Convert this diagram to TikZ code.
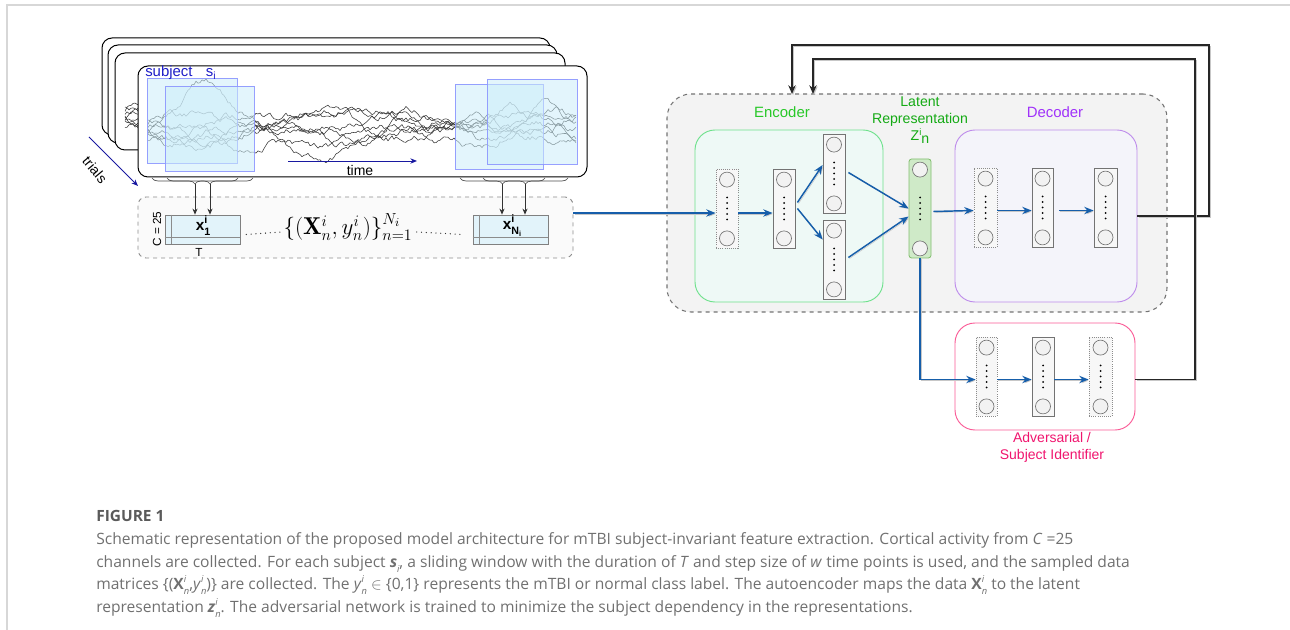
\documentclass[tikz,border=0pt]{standalone}
\usepackage{fontspec}
\usepackage{amsmath}
\usetikzlibrary{arrows.meta,calc,fit,decorations.pathreplacing}
\newfontfamily\dfont{Liberation Sans}
\newfontfamily\capfont{Open Sans}

\definecolor{arrblue}{RGB}{22,94,170}
\definecolor{sigblue}{RGB}{30,30,200}
\definecolor{winfill}{RGB}{205,238,250}
\definecolor{winedge}{RGB}{140,150,255}
\definecolor{matfill}{RGB}{226,243,250}
\definecolor{encedge}{RGB}{110,225,140}
\definecolor{encfill}{RGB}{238,249,246}
\definecolor{enctext}{RGB}{40,200,40}
\definecolor{lattext}{RGB}{20,170,20}
\definecolor{latfill}{RGB}{207,234,200}
\definecolor{latedge}{RGB}{130,190,110}
\definecolor{decedge}{RGB}{190,140,235}
\definecolor{decfill}{RGB}{244,244,250}
\definecolor{dectext}{RGB}{160,50,250}
\definecolor{advedge}{RGB}{250,90,150}
\definecolor{advtext}{RGB}{240,20,110}
\definecolor{autofill}{RGB}{243,243,243}
\definecolor{capgray}{RGB}{112,112,112}
\definecolor{figgray}{RGB}{90,90,90}
\definecolor{pagerule}{RGB}{215,215,215}

% small stacked super/subscripts for text mode
\newcommand{\stk}[2]{\makebox[0pt][l]{\raisebox{0.9ex}{\fontsize{7}{8}\selectfont\itshape #1}}\raisebox{-0.55ex}{\fontsize{7}{8}\selectfont\itshape #2}}
\newcommand{\mlab}[1]{{\bfseries x}\makebox[0pt][l]{\raisebox{0.85ex}{\fontsize{8}{9}\selectfont\bfseries i}}\raisebox{-0.6ex}{\fontsize{8}{9}\selectfont\bfseries #1}}

% a layer of neurons: name, extra style, left, top, right, bottom (pixel units)
\newcommand{\nnlayer}[6]{%
  \node[layerbox,#2,fit={(#3,#4) (#5,#6)}] (#1) {};
  \node[neuron] (#1-top) at ($(#1.north)+(0,11)$) {};
  \node[neuron] (#1-bot) at ($(#1.south)+(0,-10)$) {};
  \foreach \dd in {-2,...,2}{\fill ($(#1.center)+(0,\dd*5.5)$) circle[radius=0.75pt];}
}

% EEG-like traces: mean-reverting random walks around a smooth course,
% computed once and stored as \trace1 ... \trace8
\newcommand{\buildtraces}{%
  \pgfmathsetseed{4711}%
  \foreach \vc/\va/\vf/\vp/\vb/\vg/\vq/\vk/\vm/\vw [count=\n] in {
    124/8/1.7/30/5/4.3/100/46/196/24,
    130/12/1.9/120/4/5.1/20/34/398/14,
    127/11/1.5/250/5/3.7/200/27/330/16,
    133/7/2.2/60/6/4.8/300/40/540/14,
    122/13/1.3/180/4/6.0/90/0/300/10,
    138/9/2.5/10/5/3.2/150/-20/285/18,
    125/10/1.8/300/4/5.5/45/34/505/16,
    135/12/1.1/90/4/4.0/270/-18/222/22}{
    \xdef\yy{\vc}\gdef\pts{}%
    \foreach \x in {148,150,...,576}{%
      \pgfmathparse{\yy+0.12*((\vc+\va*sin(\vf*\x+\vp)+\vb*sin(\vg*\x+\vq)-\vk/(1+((\x-\vm)/\vw)^2))-\yy)+2.8*rand}%
      \xdef\yy{\pgfmathresult}%
      \xdef\pts{\pts(\x,\yy)}%
    }%
    \global\expandafter\let\csname trace\n\endcsname\pts
  }%
}
\newcommand{\sigtraces}{%
  \foreach \n in {1,...,8}{%
    \edef\tmpdraw{\noexpand\draw[trace] plot coordinates {\csname trace\n\endcsname};}\tmpdraw
  }%
}

\begin{document}
\begin{tikzpicture}[x=0.75pt,y=-0.75pt,
  trace/.style={black!80,line width=0.4pt,line join=round},
  trialframe/.style={draw=black,fill=white,rounded corners=7.5pt,line width=0.75pt,inner sep=0pt},
  win/.style={draw=winedge,fill=winfill,fill opacity=0.55,draw opacity=0.9,line width=0.6pt,inner sep=0pt},
  bracestyle/.style={draw=black!70,line width=0.5pt,decorate,decoration={brace,mirror,amplitude=4.5pt}},
  smallarr/.style={draw=black!80,line width=0.6pt,-{Stealth[length=4.5pt,width=3.8pt]}},
  databox/.style={draw=black!45,dashed,fill=black!2,rounded corners=6pt,line width=0.7pt,inner sep=0pt},
  matbox/.style={draw=black!50,fill=matfill,line width=0.5pt,inner sep=0pt},
  dotline/.style={draw=black!80,line width=1pt,line cap=round,dash pattern=on 0pt off 3.6pt},
  autobox/.style={draw=black!55,dashed,fill=autofill,rounded corners=18pt,line width=0.8pt,inner sep=0pt},
  groupbox/.style={rounded corners=15pt,line width=0.7pt,inner sep=0pt},
  layerbox/.style={draw=black!55,fill=black!3,line width=0.6pt,inner sep=0pt},
  dotbox/.style={densely dotted,draw=black!45},
  latbox/.style={draw=latedge,fill=latfill,rounded corners=2pt},
  neuron/.style={circle,draw=black!55,fill=black!5,minimum size=11.25pt,inner sep=0pt,line width=0.5pt},
  shadow/.style={preaction={draw=black!22,transform canvas={shift={(0.8pt,-0.8pt)}}}},
  arr/.style={draw=arrblue,line width=1.1pt,-{Stealth[length=7pt,width=5.5pt]},shadow},
  fb/.style={draw=black!85,line width=1.1pt,-{Stealth[length=6.5pt,width=5.5pt]},shadow},
  lab/.style={font=\dfont\fontsize{10.5}{13}\selectfont,inner sep=0pt,align=center},
  capline/.style={font=\capfont\fontsize{11.7}{13}\selectfont,text=capgray,inner sep=0pt,anchor=base west}]

\useasboundingbox (0,0) rectangle (1290,630);

% page rules
\draw[pagerule,line width=1.2pt] (7,630) -- (7,5) -- (1290,5);

\buildtraces

% ---------- stack of trials ----------
\foreach \fx/\fy/\fxr/\fyb/\dx/\dy [count=\k] in
  {102/38/550/135/-36/-28, 108/45/557/143/-30/-21, 115/53/565/150/-23/-13}{
  \node[trialframe,fit={(\fx,\fy) (\fxr,\fyb)}] (trial\k) {};
  \begin{scope}
    \clip[rounded corners=7.5pt] (\fx,\fy) rectangle (\fxr,\fyb);
    \begin{scope}[shift={(\dx,\dy)}]\sigtraces\end{scope}
  \end{scope}
}
\node[trialframe,fit={(138,66) (587,177)}] (front) {};
\begin{scope}
  \clip[rounded corners=7.5pt] (138,66) rectangle (587,177);
  \sigtraces
\end{scope}

% sliding windows
\node[win,fit={(147,78) (237,163)}] (w1) {};
\node[win,fit={(165,86) (254,171)}] (w2) {};
\node[win,fit={(455,84) (543,169)}] (w3) {};
\node[win,fit={(487,79) (577,164)}] (w4) {};

\node[lab,anchor=west,text=sigblue,font=\dfont\fontsize{11.2}{13}\selectfont] (subj) at (145,73)
  {subject\hspace{10pt}s\textsubscript{i}};

% time axis
\coordinate (t0) at (288,161);
\coordinate (t1) at (417,161);
\draw[sigblue!80!black,line width=0.7pt,-{Stealth[length=5pt,width=4pt]}] (t0) -- (t1);
\node[lab,font=\dfont\fontsize{10.5}{12}\selectfont] (timel) at (360,171) {time};

% trials direction
\coordinate (tr0) at (89,137);
\coordinate (tr1) at (138,186);
\draw[sigblue!80!black,line width=0.7pt,-{Stealth[length=5pt,width=4pt]}] (tr0) -- (tr1);
\node[lab,rotate=-50,font=\dfont\fontsize{10.5}{12}\selectfont] (trials) at (95,170) {trials};

% ---------- sampled data matrices ----------
\node[databox,fit={(138,197) (573,258)}] (datab) {};

\draw[bracestyle] (152,178) -- (238,178);
\draw[bracestyle] (167,178) -- (253,178);
\draw[bracestyle] (460,178) -- (545,178);
\draw[bracestyle] (483,178) -- (568,178);
\coordinate (b1) at (195,184);
\coordinate (b2) at (210,184);
\coordinate (b3) at (502,184);
\coordinate (b4) at (525,184);

\node[matbox,fit={(165,215) (240,244)}] (m1) {};
\node[matbox,fit={(473,215) (548,244)}] (m2) {};
\draw[black!45,line width=0.4pt] ($(m1.north west)+(7,0)$) -- ($(m1.south west)+(7,0)$);
\draw[black!45,line width=0.4pt] ($(m1.south west)+(0,-7)$) -- ($(m1.south east)+(0,-7)$);
\draw[black!45,line width=0.4pt] ($(m2.north west)+(7,0)$) -- ($(m2.south west)+(7,0)$);
\draw[black!45,line width=0.4pt] ($(m2.south west)+(0,-7)$) -- ($(m2.south east)+(0,-7)$);

\draw[smallarr] (b1) -- (b1 |- m1.north);
\draw[smallarr] (b2) -- (b2 |- m1.north);
\draw[smallarr] (b3) -- (b3 |- m2.north);
\draw[smallarr] (b4) -- (b4 |- m2.north);

\node[lab,font=\dfont\fontsize{11.5}{13}\selectfont] (x1) at (203,226) {\mlab{1}};
\node[lab,font=\dfont\fontsize{11.5}{13}\selectfont] (xn) at (512,226)
  {\mlab{N\raisebox{-0.4ex}{\fontsize{5.5}{6}\selectfont i}}};
\node[lab,rotate=90,font=\dfont\fontsize{8.8}{10}\selectfont] (cc) at (157,229) {C = 25};
\node[lab,font=\dfont\fontsize{8.8}{10}\selectfont] (tt) at (199,252) {T};

\node[inner sep=0pt,font=\fontsize{18.3}{21}\selectfont] (form) at (348,227)
  {$\{(\mathbf{X}^i_n, y^i_n)\}^{N_i}_{n=1}$};
\draw[dotline] ($(m1.east)+(6,5)$) -- ($(form.west)+(-2,5)$);
\draw[dotline] ($(form.east)+(4,5)$) -- ($(m2.west)+(-10,5)$);

% ---------- autoencoder ----------
\node[autobox,fit={(667,94) (1167,312)}] (auto) {};
\node[groupbox,draw=encedge,fill=encfill,fit={(695,130) (883,302)}] (enc) {};
\node[groupbox,draw=decedge,fill=decfill,fit={(955,130) (1137,302)}] (dec) {};
\node[groupbox,draw=advedge,fill=white,fit={(955,323) (1135,430)}] (adv) {};

\node[lab,text=enctext,font=\dfont\fontsize{11.2}{13}\selectfont] (encl) at (782,112) {Encoder};
\node[lab,text=dectext,font=\dfont\fontsize{11.2}{13}\selectfont] (decl) at (1055,112) {Decoder};
\node[lab,text=lattext,font=\dfont\fontsize{10.6}{12.9}\selectfont] (latl) at (920,120)
  {Latent\\Representation\\Z\raisebox{0.75ex}{\fontsize{7}{8}\selectfont i}\raisebox{-0.3ex}{n}};
\node[lab,text=advtext,font=\dfont\fontsize{10.5}{12.9}\selectfont] (advl) at (1052,447)
  {Adversarial /\\Subject Identifier};

\nnlayer{e1}{dotbox}{716}{169}{738}{248}
\nnlayer{e2}{}{773}{169}{795}{248}
\nnlayer{e3a}{}{823}{134}{845}{213}
\nnlayer{e3b}{}{823}{220}{845}{299}
\nnlayer{lat}{latbox}{909}{159}{931}{258}
\nnlayer{d1}{dotbox}{974}{168}{997}{247}
\nnlayer{d2}{}{1032}{168}{1053}{247}
\nnlayer{d3}{}{1094}{168}{1117}{247}
\nnlayer{a1}{dotbox}{976}{337}{997}{416}
\nnlayer{a2}{}{1032}{337}{1054}{416}
\nnlayer{a3}{dotbox}{1089}{337}{1112}{416}

% data flow
\draw[arr] (datab.east |- 0,213) -- ($(e1.west)+(0,4.5)$);
\draw[arr] ($(e1.east)+(0,4.5)$) -- ($(e2.west)+(0,4.5)$);
\draw[arr] ($(e2.east)+(2,-6)$) -- ($(e3a.west)+(0,-8.5)$);
\draw[arr] ($(e2.east)+(2,0)$) -- ($(e3b.west)+(0,-20)$);
\draw[arr] ($(e3a.east)+(3,-1)$) -- ($(lat.west)+(0,0)$);
\draw[arr] ($(e3b.east)+(3,-2)$) -- ($(lat.west)+(0,8)$);
\draw[arr] ($(lat.east)+(2,3)$) -- ($(d1.west)+(0,3)$);
\draw[arr] ($(d1.east)+(0,3)$) -- ($(d2.west)+(0,3)$);
\draw[arr] ($(d2.east)+(6,3)$) -- ($(d3.west)+(0,3)$);
\draw[arr] (lat.south) |- ($(a1.west)+(0,3)$);
\draw[arr] ($(a1.east)+(0,3)$) -- ($(a2.west)+(0,3)$);
\draw[arr] ($(a2.east)+(0,3)$) -- ($(a3.west)+(0,3)$);

% feedback to the autoencoder
\coordinate (fbA) at (1209,45);
\coordinate (fbB) at (1195,59);
\coordinate (inA) at (792,94);
\coordinate (inB) at (813,94);
\draw[fb] (dec.east) -| (fbA) -| (inA);
\draw[fb] ($(adv.east)+(0,3)$) -| (fbB) -| (inB);

% ---------- caption ----------
\node[capline,font=\capfont\bfseries\fontsize{11.6}{13}\selectfont,text=figgray] (fig) at (96,522) {FIGURE 1};
\node[capline] (cap1) at (96,545) {Schematic representation of the proposed model architecture for mTBI subject-invariant feature extraction. Cortical activity from \textit{C} =25};
\node[capline] (cap2) at (96,568) {channels are collected. For each subject \textbf{\textit{s}}\raisebox{-0.55ex}{\fontsize{7}{8}\selectfont\itshape i}, a sliding window with the duration of \textit{T} and step size of \textit{w} time points is used, and the sampled data};
\node[capline] (cap3) at (96,590) {matrices \{(\textbf{X}\stk{i}{n},\textit{y}\stk{i}{n})\} are collected. The \textit{y}\stk{i}{n} $\in$ \{0,1\} represents the mTBI or normal class label. The autoencoder maps the data \textbf{X}\stk{i}{n} to the latent};
\node[capline] (cap4) at (96,613) {representation \textbf{\textit{z}}\stk{i}{n}. The adversarial network is trained to minimize the subject dependency in the representations.};

\end{tikzpicture}
\end{document}
